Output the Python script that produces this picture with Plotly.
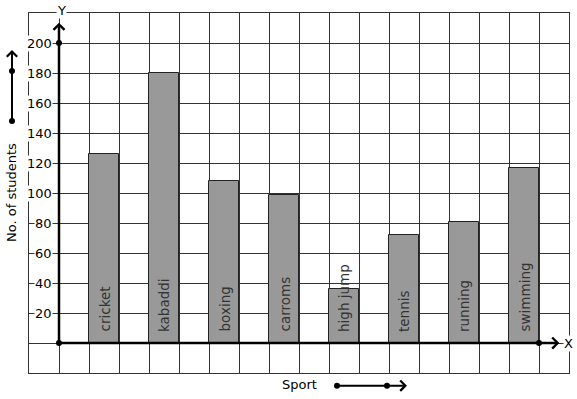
import plotly.graph_objects as go

sports = ["cricket", "kabaddi", "boxing", "carroms", "high jump", "tennis", "running", "swimming"]
students = [126, 180, 108, 99, 36, 72, 81, 117]
y_ticks = [20, 40, 60, 80, 100, 120, 140, 160, 180, 200]
x_title = "Sport"
y_title = "No. of students"

FONT = "DejaVu Sans"
xpos = [1.5 + 2 * i for i in range(len(sports))]

fig = go.Figure()
fig.add_trace(go.Bar(
    x=xpos, y=students, width=1,
    marker=dict(color="#999999", line=dict(color="#222222", width=1)),
    hoverinfo="skip", showlegend=False,
))
# axis dots (origin, y=200, end of x axis)
fig.add_trace(go.Scatter(
    x=[0, 0, 16], y=[0, 200, 0],
    mode="markers", marker=dict(color="black", size=6),
    cliponaxis=False, hoverinfo="skip", showlegend=False,
))

ann = []
arrow_common = dict(text="", showarrow=True, arrowhead=4, arrowcolor="black",
                    standoff=0, startstandoff=0)
# axis arrows
ann.append(dict(x=0, y=213.5, ax=0, ay=0, xref="x", yref="y", axref="x", ayref="y",
                arrowwidth=2.5, arrowsize=0.85, **arrow_common))
ann.append(dict(x=16.68, y=0, ax=0, ay=0, xref="x", yref="y", axref="x", ayref="y",
                arrowwidth=2.5, arrowsize=0.85, **arrow_common))
# decorative arrows by axis titles (paper coords, pixel tails)
ann.append(dict(x=-0.0315, y=0.8972, ax=0, ay=71, xref="paper", yref="paper",
                axref="pixel", ayref="pixel", arrowwidth=2, arrowsize=1, **arrow_common))
ann.append(dict(x=0.70, y=-0.0353, ax=-70, ay=0, xref="paper", yref="paper",
                axref="pixel", ayref="pixel", arrowwidth=2, arrowsize=1, **arrow_common))
center = dict(xanchor="center", yanchor="middle", showarrow=False)
# titles
ann.append(dict(x=0.5, y=-0.0333, xref="paper", yref="paper", text=x_title,
                font=dict(family=FONT, size=13, color="black"), **center))
ann.append(dict(x=-0.0315, y=0.5028, xref="paper", yref="paper", text=y_title,
                textangle=-90, font=dict(family=FONT, size=13, color="black"), **center))
ann.append(dict(x=0.0593, y=1.0083, xref="paper", yref="paper", text="Y",
                bgcolor="white", borderpad=0, font=dict(family=FONT, size=13, color="black"), **center))
ann.append(dict(x=0.9985, y=0.0833, xref="paper", yref="paper", text="X",
                bgcolor="white", borderpad=0, font=dict(family=FONT, size=13, color="black"), **center))
# y tick labels
for v in y_ticks:
    ann.append(dict(x=-0.2, y=v, xref="x", yref="y", text=str(v), showarrow=False,
                    xanchor="right", yanchor="middle", bgcolor="white", borderpad=0,
                    font=dict(family=FONT, size=13, color="black")))
# bar labels
for xp, s in zip(xpos, sports):
    ann.append(dict(x=xp, y=0, xref="x", yref="y", text=s, showarrow=False,
                    textangle=-90, xanchor="center", yanchor="bottom", yshift=9,
                    font=dict(family=FONT, size=13.5, color="#333333")))

# dots on the decorative arrows
shapes = []
for (px, py) in [(-0.0315, (373 - 121) / 360), (-0.0315, (373 - 71) / 360),
                 ((337 - 29) / 540, -0.0353), ((387 - 29) / 540, -0.0353)]:
    shapes.append(dict(type="circle", xref="paper", yref="paper",
                       xsizemode="pixel", ysizemode="pixel", xanchor=px, yanchor=py,
                       x0=-3, x1=3, y0=-3, y1=3, fillcolor="black", line=dict(width=0)))

fig.update_layout(
    width=577, height=399, autosize=False,
    margin=dict(l=29, r=8, t=13, b=26, pad=0),
    plot_bgcolor="white", paper_bgcolor="white",
    bargap=0, annotations=ann, shapes=shapes,
    xaxis=dict(range=[-1, 17], tick0=0, dtick=1, showgrid=True, gridcolor="#333333",
               gridwidth=1, showticklabels=False, ticks="", zeroline=False,
               showline=True, mirror=True, linecolor="#333333", linewidth=1, fixedrange=True),
    yaxis=dict(range=[-20, 220], tick0=0, dtick=20, showgrid=True, gridcolor="#333333",
               gridwidth=1, showticklabels=False, ticks="", zeroline=False,
               showline=True, mirror=True, linecolor="#333333", linewidth=1, fixedrange=True),
)
fig.write_html("out.html", config={"displayModeBar": False},
               post_script="document.body.style.margin='0';")
